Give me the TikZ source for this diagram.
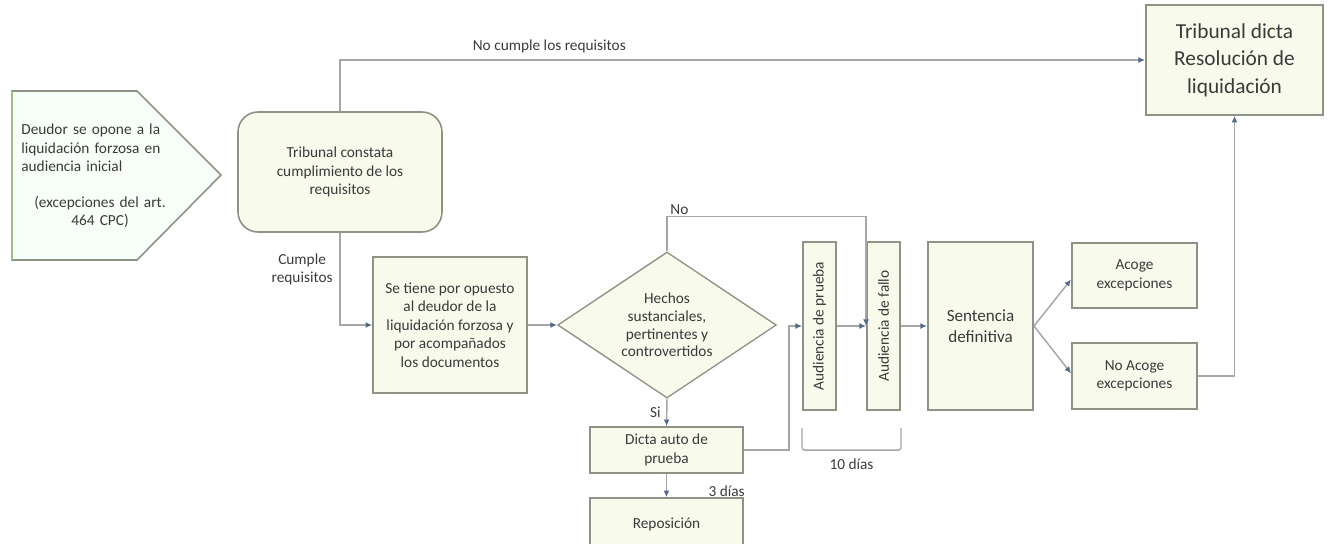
\documentclass[tikz,border=0pt]{standalone}
\usepackage{fontspec}
\setmainfont{Carlito}
\usetikzlibrary{shapes.geometric,arrows.meta,positioning}
\definecolor{boxfill}{HTML}{F8FAEC}
\definecolor{boxline}{HTML}{8E9386}
\definecolor{edgec}{HTML}{A6A6A6}
\definecolor{tipc}{HTML}{53698C}
\definecolor{txt}{HTML}{3A3A3A}
\definecolor{greenline}{HTML}{9DBF80}
\tikzstyle{block} = [rectangle, draw=boxline, line width=1.2pt, fill=boxfill,
    text=txt, align=center, inner sep=2pt, font=\fontsize{11.5}{13.8}\selectfont]
\tikzstyle{decision} = [diamond, draw=boxline, line width=1pt, fill=boxfill,
    text=txt, align=center, aspect=1.5, inner sep=0pt, font=\fontsize{11.5}{13.3}\selectfont]
\tikzstyle{lbl} = [text=txt, font=\fontsize{11.5}{13.8}\selectfont, inner sep=1pt]
\tikzstyle{line} = [draw=edgec, line width=1.1pt, -{Latex[length=5pt,width=4.5pt,color=tipc]}]
\begin{document}
\begin{tikzpicture}[x=0.75pt, y=-0.75pt]
    \useasboundingbox (0,0) rectangle (1330,543);
    % Place nodes
    \draw [boxline, line width=1.2pt, fill=boxfill!70!green!8]
        (12,91) -- (137,91) -- (221,175) -- (137,260) -- (12,260) -- cycle;
    \draw [greenline, line width=1.2pt] (12,91) -- (12,260);
    \node [lbl, text width=118pt] (deudor) at (100,176)
        {\raggedright Deudor se opone a la\\ liquidación forzosa en\\ audiencia inicial\par
         \vspace{13pt}\centering (excepciones del art.\\ 464 CPC)\par};
    \node [block, rounded corners=15pt, minimum width=153pt, minimum height=90pt] (constata) at (340,172)
        {Tribunal constata\\ cumplimiento de los\\ requisitos};
    \node [block, minimum width=133pt, minimum height=82.5pt, font=\fontsize{16}{20.5}\selectfont] (dicta) at (1234.5,60)
        {Tribunal dicta\\ Resolución de\\ liquidación};
    \node [block, minimum width=115.5pt, minimum height=102pt] (setiene) at (450,325)
        {Se tiene por opuesto\\ al deudor de la\\ liquidación forzosa y\\ por acompañados\\ los documentos};
    \node [decision, minimum width=164pt, minimum height=109.5pt] (hechos) at (667,325)
        {Hechos\\ sustanciales,\\ pertinentes y\\ controvertidos};
    \node [block, minimum width=115pt, minimum height=34.5pt] (dictaauto) at (666.5,450)
        {Dicta auto de\\ prueba};
    \node [block, minimum width=115pt, minimum height=39pt] (repos) at (666.5,524)
        {Reposición};
    \node [block, rotate=90, minimum width=126pt, minimum height=25pt] (aprueba) at (819.5,326)
        {Audiencia de prueba};
    \node [block, rotate=90, minimum width=126pt, minimum height=25pt] (afallo) at (883.5,326)
        {Audiencia de fallo};
    \node [block, minimum width=79pt, minimum height=126pt, font=\fontsize{12.8}{15.5}\selectfont] (sentencia) at (980.5,326)
        {Sentencia\\ definitiva};
    \node [block, minimum width=94pt, minimum height=49pt] (acoge) at (1134.5,275.5)
        {Acoge\\ excepciones};
    \node [block, minimum width=94pt, minimum height=49.5pt] (noacoge) at (1134.5,376)
        {No Acoge\\ excepciones};
    % Draw edges
    \path [line] (constata.north) |- node [lbl, pos=0.63, above=4pt] {No cumple los requisitos} (dicta.west);
    \path [line] (constata.south) |- node [lbl, pos=0.2, left=4pt, align=center] {Cumple\\ requisitos} (setiene.west);
    \path [line] (setiene) -- (hechos);
    \path [line] (hechos.north) -- ++(0,-35) node [lbl, right=1pt, yshift=5pt] {No} -| (afallo.north);
    \path [line] (hechos.south) -- node [lbl, left=3pt] {Si} (dictaauto.north);
    \path [line] (dictaauto) -- node [lbl, pos=0.75, right=30pt] {3 días} (repos);
    \path [line] (dictaauto.east) -- ++(45,0) |- (aprueba.north);
    \path [line] (aprueba) -- (afallo);
    \path [line] (afallo) -- (sentencia);
    \path [line] (sentencia.east) -- ([yshift=-3pt]acoge.west);
    \path [line] (sentencia.east) -- ([yshift=2pt]noacoge.west);
    \path [line] (noacoge.east) -| (dicta.south);
    \draw [edgec, line width=1pt, rounded corners=2pt]
        ([yshift=-13pt]aprueba.north west) -- ++(0,22) -| node [lbl, pos=0.25, below=5pt] {10 días} ([yshift=-13pt]afallo.south west);
\end{tikzpicture}
\end{document}
